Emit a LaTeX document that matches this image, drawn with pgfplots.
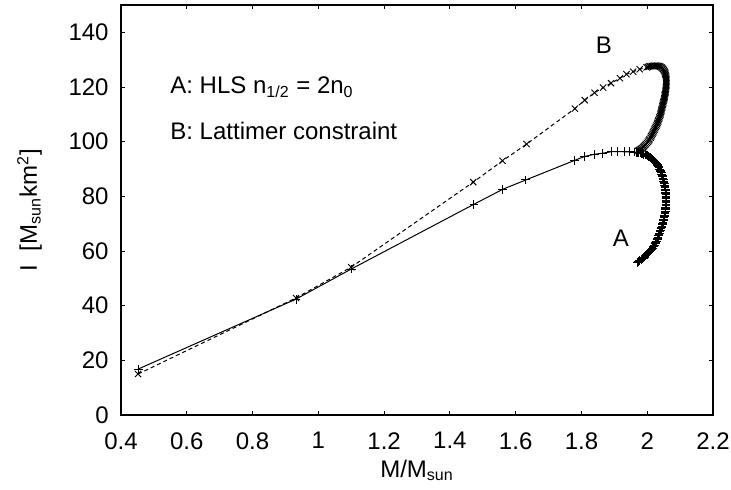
\documentclass[border=0pt]{standalone}
\usepackage{fontspec}
\setmainfont{Liberation Sans}
\usepackage{pgfplots}
\pgfplotsset{compat=1.18}

\begin{document}
\fontsize{12}{14}\selectfont
\begin{tikzpicture}
\begin{axis}[
  scale only axis,
  width=296pt, height=205pt,
  xmin=0.4, xmax=2.2,
  ymin=0, ymax=150,
  xtick={0.4,0.6,...,2.2},
  ytick={0,20,...,140},
  xticklabels={0.4,0.6,0.8,1,1.2,1.4,1.6,1.8,2,2.2},
  tick align=inside,
  tick pos=both,
  major tick length=2pt,
  axis line style={line width=0.6pt},
  tick style={line width=0.4pt, black},
  /pgf/number format/assume math mode=true,
  ticklabel style={font=\fontsize{12}{14}\selectfont},
  xticklabel style={yshift=-4.5pt},
  yticklabel style={xshift=-2pt},
  label style={font=\fontsize{12}{14}\selectfont},
  xlabel={M/M\textsubscript{sun}},
  ylabel={I\ \ [M\textsubscript{sun}km\textsuperscript{2}]},
  xlabel style={at={(axis description cs:0.5,0)}, anchor=base, yshift=-31pt},
  ylabel style={at={([xshift=-42pt]axis description cs:0,0.5)}, anchor=base},
  clip=false,
]

% A: HLS
\addplot[black, line width=0.5pt, mark=+, mark size=2.2pt,
  mark options={line width=0.45pt, solid}] coordinates {
  (0.452,16.8)(0.932,42.4)(1.100,53.4)(1.473,77.1)(1.561,82.6)(1.631,86.0)
  (1.780,93.2)(1.810,94.6)(1.840,95.4)(1.865,95.8)(1.890,96.3)(1.910,96.4)
  (1.930,96.3)(1.947,96.3)(1.962,96.2)
  (1.966,96.15)(1.970,96.1)(1.974,96.0)(1.978,95.9)(1.982,95.75)(1.986,95.6)
  (1.990,95.45)(1.994,95.3)(1.998,95.1)(2.001,94.9)(2.005,94.65)(2.008,94.4)
  (2.011,94.15)(2.014,93.9)(2.017,93.55)(2.020,93.2)(2.023,92.85)(2.025,92.5)
  (2.028,92.1)(2.030,91.7)(2.032,91.3)(2.034,90.9)(2.036,90.45)(2.038,90.0)
  (2.040,89.55)(2.041,89.1)(2.043,88.6)(2.044,88.1)(2.046,87.6)(2.047,87.1)
  (2.048,86.6)(2.049,86.1)(2.050,85.6)(2.051,85.1)(2.052,84.6)(2.053,84.1)
  (2.054,83.6)(2.054,83.1)(2.055,82.6)(2.055,82.1)(2.056,81.6)(2.056,81.1)
  (2.057,80.6)(2.057,80.1)(2.057,79.6)(2.057,79.1)(2.057,78.6)(2.057,78.1)
  (2.057,77.6)(2.057,77.1)(2.057,76.6)(2.056,76.1)(2.056,75.6)(2.055,75.1)
  (2.055,74.6)(2.054,74.1)(2.054,73.6)(2.053,73.1)(2.052,72.6)(2.051,72.1)
  (2.050,71.6)(2.049,71.1)(2.048,70.6)(2.047,70.1)(2.046,69.6)(2.045,69.1)
  (2.044,68.6)(2.042,68.1)(2.041,67.6)(2.039,67.1)(2.038,66.6)(2.036,66.1)
  (2.035,65.6)(2.033,65.1)(2.032,64.6)(2.030,64.1)(2.028,63.6)(2.026,63.1)
  (2.024,62.6)(2.021,62.1)(2.019,61.6)(2.016,61.1)(2.013,60.65)(2.010,60.2)
  (2.007,59.8)(2.004,59.4)(2.001,59.0)(1.998,58.6)(1.995,58.2)(1.991,57.8)
  (1.988,57.45)(1.984,57.1)(1.981,56.75)(1.977,56.4)(1.974,56.1)(1.970,55.8)
};

% B: Lattimer
\addplot[black, line width=0.5pt, dash pattern=on 2pt off 1.5pt, mark=x, mark size=2.2pt,
  mark options={line width=0.45pt, solid}] coordinates {
  (0.452,15.0)(0.932,42.8)(1.100,54.1)(1.471,85.2)(1.560,93.0)(1.633,99.1)
  (1.780,112.1)(1.810,115.2)(1.840,117.9)(1.866,119.8)(1.890,121.4)(1.917,123.2)
  (1.937,124.7)(1.957,125.6)(1.977,126.5)(1.998,127.2)
  (2.002,127.35)(2.006,127.5)(2.010,127.6)(2.014,127.7)(2.018,127.75)(2.022,127.8)
  (2.026,127.8)(2.030,127.8)(2.034,127.7)(2.037,127.6)(2.040,127.4)(2.043,127.2)
  (2.046,126.9)(2.048,126.6)(2.050,126.2)(2.052,125.8)(2.054,125.35)(2.055,124.9)
  (2.056,124.4)(2.057,123.9)(2.058,123.4)(2.058,122.9)(2.058,122.4)(2.058,121.9)
  (2.058,121.4)(2.058,120.9)(2.058,120.4)(2.057,119.9)(2.057,119.4)(2.056,118.9)
  (2.056,118.4)(2.055,117.9)(2.054,117.4)(2.053,116.9)(2.053,116.4)(2.052,115.9)
  (2.051,115.4)(2.050,114.9)(2.049,114.4)(2.048,113.9)(2.047,113.4)(2.046,112.9)
  (2.045,112.4)(2.044,111.9)(2.043,111.4)(2.042,110.9)(2.041,110.4)(2.040,109.9)
  (2.039,109.4)(2.037,108.9)(2.036,108.4)(2.034,107.9)(2.033,107.4)(2.031,106.9)
  (2.030,106.4)(2.028,105.9)(2.026,105.4)(2.024,104.9)(2.022,104.4)(2.020,103.9)
  (2.018,103.4)(2.016,102.9)(2.014,102.4)(2.012,101.9)(2.010,101.4)(2.007,100.9)
  (2.005,100.45)(2.002,100.0)(1.999,99.55)(1.996,99.1)(1.993,98.7)(1.990,98.3)
  (1.987,97.95)(1.984,97.6)(1.981,97.35)(1.978,97.1)(1.975,96.9)(1.972,96.7)
};

\node[anchor=west, inner sep=0pt] at (axis cs:0.549,120) {A: HLS n\textsubscript{1/2} = 2n\textsubscript{0}};
\node[anchor=west, inner sep=0pt] at (axis cs:0.549,104) {B: Lattimer constraint};
\node at (axis cs:1.868,135.3) {B};
\node at (axis cs:1.920,64.7) {A};
\end{axis}
\pgfresetboundingbox
\path[use as bounding box] (-60.5pt,-37pt) rectangle (305pt,207.5pt);
\end{tikzpicture}
\end{document}
